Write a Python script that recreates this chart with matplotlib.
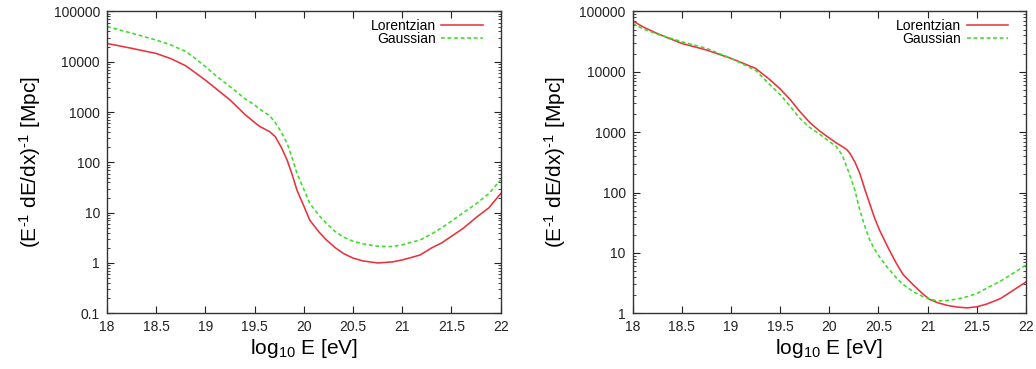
import matplotlib.pyplot as plt

plt.rcParams['font.family'] = ['Liberation Sans', 'DejaVu Sans']
plt.rcParams['mathtext.fontset'] = 'custom'
plt.rcParams['mathtext.rm'] = 'Liberation Sans'
plt.rcParams['mathtext.it'] = 'Liberation Sans:italic'
plt.rcParams['mathtext.default'] = 'regular'

# energy loss length for two line-shape approximations (left panel)
logE_a = [18.0, 18.25, 18.5, 18.65, 18.8, 18.9, 19.0, 19.1, 19.25, 19.4, 19.5, 19.55, 19.65, 19.71,
          19.77, 19.83, 19.88, 19.93, 20.0, 20.06, 20.15, 20.23, 20.32, 20.4, 20.5, 20.6, 20.75,
          20.9, 21.0, 21.1, 21.18, 21.3, 21.4, 21.5, 21.62, 21.75, 21.88, 22.0]
lor_a = [23100, 18500, 14600, 11500, 8300, 6000, 4300, 3000, 1740, 900, 620, 520, 410, 324,
         200, 111, 58, 28, 13.5, 7.1, 4.2, 2.86, 2.0, 1.55, 1.25, 1.1, 1.0,
         1.05, 1.15, 1.3, 1.44, 2.0, 2.5, 3.4, 4.9, 8.0, 12.5, 24]
gau_a = [50000, 37000, 27000, 21500, 16000, 11500, 8000, 5400, 3200, 1850, 1380, 1150, 850, 620,
         400, 238, 125, 60, 29, 15.3, 9.0, 6.1, 4.2, 3.3, 2.7, 2.4, 2.15,
         2.12, 2.3, 2.6, 2.86, 3.8, 5.0, 6.8, 10, 15, 24, 45]

# right panel
logE_b = [18.0, 18.1, 18.25, 18.5, 18.75, 19.0, 19.25, 19.4, 19.5, 19.6, 19.7, 19.8, 19.9, 20.0,
          20.07, 20.13, 20.18, 20.21, 20.26, 20.31, 20.36, 20.41, 20.46, 20.51, 20.6, 20.68, 20.75,
          20.85, 20.95, 21.02, 21.1, 21.2, 21.3, 21.4, 21.5, 21.6, 21.74, 21.87, 22.0]
lor_b = [70000, 56000, 43000, 29500, 23000, 16700, 11400, 7300, 5200, 3500, 2200, 1450, 1050, 800,
         665, 580, 510, 446, 320, 208, 115, 66, 38, 24, 12, 6.8, 4.4,
         3.0, 2.1, 1.7, 1.5, 1.35, 1.27, 1.23, 1.28, 1.42, 1.75, 2.4, 3.3]
gau_b = [63000, 52000, 42000, 31500, 24500, 16700, 10600, 6000, 4200, 2700, 1700, 1200, 930, 700,
         580, 420, 260, 190, 110, 51, 28, 16.4, 11.5, 8.6, 5.5, 3.9, 3.0,
         2.3, 1.9, 1.72, 1.6, 1.63, 1.72, 1.88, 2.12, 2.6, 3.4, 4.6, 6.3]

xticks = [18, 18.5, 19, 19.5, 20, 20.5, 21, 21.5, 22]
xticklabels = ['18', '18.5', '19', '19.5', '20', '20.5', '21', '21.5', '22']

red = '#e8333d'
green = '#3ddc2a'


def panel(ax, x, lor, gau, ymin):
    ax.plot(x, lor, color=red, lw=1.15, label='Lorentzian')
    ax.plot(x, gau, color=green, lw=1.15, ls=(0, (2.4, 1.7)), label='Gaussian')
    ax.set_yscale('log')
    ax.set_xlim(18, 22)
    ax.set_ylim(ymin, 1e5)
    ax.set_xticks(xticks)
    ax.set_xticklabels(xticklabels)
    yt = [v for v in [0.1, 1, 10, 100, 1000, 10000, 100000] if v >= ymin]
    ax.set_yticks(yt)
    ax.set_yticklabels(['%g' % v for v in yt])
    ax.tick_params(which='both', direction='in', top=True, right=True, labelsize=10,
                   colors='#222222', pad=5)
    ax.tick_params(which='major', length=5)
    ax.tick_params(which='minor', length=2.5)
    for s in ax.spines.values():
        s.set_color('#333333')
        s.set_linewidth(1.0)
    ax.set_xlabel(r'log$_{10}$ E [eV]', fontsize=15, labelpad=2)
    ax.set_ylabel(r'(E$^{\text{-1}}$ dE/dx)$^{\text{-1}}$ [Mpc]', fontsize=15, labelpad=8)
    ax.legend(loc='upper right', bbox_to_anchor=(0.955, 0.975), frameon=False,
              markerfirst=False, fontsize=10, handlelength=3.0, labelspacing=-0.05,
              borderaxespad=0, borderpad=0, handletextpad=0.4)


fig = plt.figure(figsize=(10.36, 3.69), dpi=100)
ax1 = fig.add_axes([0.1033, 0.151, 0.380, 0.818])
ax2 = fig.add_axes([0.6107, 0.151, 0.3796, 0.818])
panel(ax1, logE_a, lor_a, gau_a, 0.1)
panel(ax2, logE_b, lor_b, gau_b, 1)

fig.savefig('out.png', dpi=100)
